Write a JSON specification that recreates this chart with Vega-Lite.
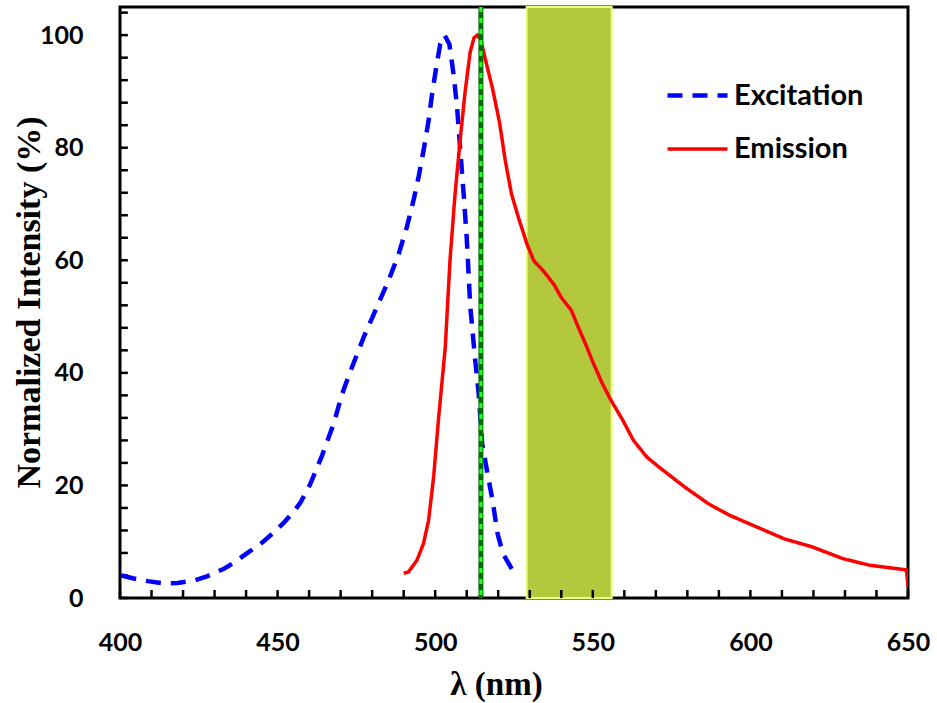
{
  "$schema": "https://vega.github.io/schema/vega-lite/v6.json",
  "width": 788,
  "height": 591,
  "autosize": "none",
  "padding": {"left": 120, "top": 7, "right": 29, "bottom": 105},
  "background": "white",
  "config": {
    "view": {"stroke": "black", "strokeWidth": 3},
    "axis": {
      "grid": false,
      "domain": false,
      "labelFont": "Lato",
      "labelFontWeight": "bold",
      "labelFontSize": 25,
      "labelColor": "black",
      "labelFlush": false,
      "labelOverlap": false,
      "titleFont": "Liberation Serif",
      "titleFontWeight": "bold",
      "titleFontSize": 33,
      "titleColor": "black"
    }
  },
  "resolve": {"axis": {"x": "independent", "y": "independent"}},
  "datasets": {
    "spectra": [
      {"wl": 400.5, "val": 4.0, "series": "Excitation"},
      {"wl": 404, "val": 3.5, "series": "Excitation"},
      {"wl": 408.8, "val": 3.0, "series": "Excitation"},
      {"wl": 414, "val": 2.6, "series": "Excitation"},
      {"wl": 418.3, "val": 2.65, "series": "Excitation"},
      {"wl": 423.5, "val": 3.1, "series": "Excitation"},
      {"wl": 427.8, "val": 3.9, "series": "Excitation"},
      {"wl": 433, "val": 5.2, "series": "Excitation"},
      {"wl": 436.2, "val": 6.3, "series": "Excitation"},
      {"wl": 440.9, "val": 8.2, "series": "Excitation"},
      {"wl": 444.6, "val": 9.6, "series": "Excitation"},
      {"wl": 448.3, "val": 11.4, "series": "Excitation"},
      {"wl": 452, "val": 13.4, "series": "Excitation"},
      {"wl": 455.2, "val": 15.4, "series": "Excitation"},
      {"wl": 457.3, "val": 17.0, "series": "Excitation"},
      {"wl": 460.4, "val": 20.3, "series": "Excitation"},
      {"wl": 464.1, "val": 25.3, "series": "Excitation"},
      {"wl": 467.8, "val": 31.0, "series": "Excitation"},
      {"wl": 470.5, "val": 36.3, "series": "Excitation"},
      {"wl": 473.6, "val": 41.0, "series": "Excitation"},
      {"wl": 477.3, "val": 46.3, "series": "Excitation"},
      {"wl": 481.5, "val": 51.7, "series": "Excitation"},
      {"wl": 485.2, "val": 56.4, "series": "Excitation"},
      {"wl": 488.4, "val": 61.1, "series": "Excitation"},
      {"wl": 491, "val": 65.9, "series": "Excitation"},
      {"wl": 493.1, "val": 70.6, "series": "Excitation"},
      {"wl": 494.7, "val": 74.7, "series": "Excitation"},
      {"wl": 496.3, "val": 79.5, "series": "Excitation"},
      {"wl": 497.9, "val": 84.8, "series": "Excitation"},
      {"wl": 499, "val": 89.5, "series": "Excitation"},
      {"wl": 500.5, "val": 94.9, "series": "Excitation"},
      {"wl": 501.6, "val": 98.4, "series": "Excitation"},
      {"wl": 503, "val": 100, "series": "Excitation"},
      {"wl": 504.5, "val": 98.4, "series": "Excitation"},
      {"wl": 505.8, "val": 93.1, "series": "Excitation"},
      {"wl": 506.9, "val": 87.5, "series": "Excitation"},
      {"wl": 507.9, "val": 80.0, "series": "Excitation"},
      {"wl": 509, "val": 72.0, "series": "Excitation"},
      {"wl": 510, "val": 64.0, "series": "Excitation"},
      {"wl": 511.1, "val": 52.0, "series": "Excitation"},
      {"wl": 512.7, "val": 42.2, "series": "Excitation"},
      {"wl": 513.8, "val": 36.3, "series": "Excitation"},
      {"wl": 514.9, "val": 27.4, "series": "Excitation"},
      {"wl": 516.6, "val": 22.1, "series": "Excitation"},
      {"wl": 518.2, "val": 17.3, "series": "Excitation"},
      {"wl": 519.8, "val": 11.4, "series": "Excitation"},
      {"wl": 521.5, "val": 7.9, "series": "Excitation"},
      {"wl": 525, "val": 4.5, "series": "Excitation"},
      {"wl": 490, "val": 4.4, "series": "Emission"},
      {"wl": 491.5, "val": 4.6, "series": "Emission"},
      {"wl": 494.2, "val": 6.7, "series": "Emission"},
      {"wl": 496.3, "val": 9.7, "series": "Emission"},
      {"wl": 497.9, "val": 13.8, "series": "Emission"},
      {"wl": 499.5, "val": 21.5, "series": "Emission"},
      {"wl": 501.1, "val": 32.1, "series": "Emission"},
      {"wl": 502.6, "val": 41.0, "series": "Emission"},
      {"wl": 503.2, "val": 44.6, "series": "Emission"},
      {"wl": 504.7, "val": 60.0, "series": "Emission"},
      {"wl": 506.3, "val": 71.8, "series": "Emission"},
      {"wl": 507.9, "val": 81.3, "series": "Emission"},
      {"wl": 509.5, "val": 90.0, "series": "Emission"},
      {"wl": 511.1, "val": 97.0, "series": "Emission"},
      {"wl": 512.3, "val": 99.5, "series": "Emission"},
      {"wl": 513.3, "val": 100, "series": "Emission"},
      {"wl": 514.4, "val": 99.3, "series": "Emission"},
      {"wl": 516, "val": 95.5, "series": "Emission"},
      {"wl": 518.2, "val": 90.5, "series": "Emission"},
      {"wl": 520.4, "val": 84.5, "series": "Emission"},
      {"wl": 522.3, "val": 77.5, "series": "Emission"},
      {"wl": 524.2, "val": 71.8, "series": "Emission"},
      {"wl": 526.4, "val": 67.6, "series": "Emission"},
      {"wl": 529.1, "val": 62.9, "series": "Emission"},
      {"wl": 531.3, "val": 59.9, "series": "Emission"},
      {"wl": 534.5, "val": 58.0, "series": "Emission"},
      {"wl": 537.8, "val": 55.6, "series": "Emission"},
      {"wl": 540, "val": 53.4, "series": "Emission"},
      {"wl": 543.2, "val": 51.1, "series": "Emission"},
      {"wl": 545.4, "val": 48.1, "series": "Emission"},
      {"wl": 548.1, "val": 44.6, "series": "Emission"},
      {"wl": 549.8, "val": 42.2, "series": "Emission"},
      {"wl": 553.1, "val": 38.0, "series": "Emission"},
      {"wl": 555.8, "val": 35.1, "series": "Emission"},
      {"wl": 559.6, "val": 31.5, "series": "Emission"},
      {"wl": 562.9, "val": 28.0, "series": "Emission"},
      {"wl": 567.2, "val": 25.0, "series": "Emission"},
      {"wl": 571.6, "val": 23.0, "series": "Emission"},
      {"wl": 579.2, "val": 19.7, "series": "Emission"},
      {"wl": 586.8, "val": 16.7, "series": "Emission"},
      {"wl": 593.4, "val": 14.7, "series": "Emission"},
      {"wl": 602.1, "val": 12.6, "series": "Emission"},
      {"wl": 610.8, "val": 10.5, "series": "Emission"},
      {"wl": 619.5, "val": 9.1, "series": "Emission"},
      {"wl": 629.3, "val": 7.0, "series": "Emission"},
      {"wl": 638, "val": 5.8, "series": "Emission"},
      {"wl": 649.5, "val": 5.0, "series": "Emission"},
      {"wl": 650, "val": 2.0, "series": "Emission"}
    ],
    "band": [{"start": 529, "end": 556}],
    "laser": [{"wl": 514.5}],
    "xticks": [{"t": 400},{"t": 410},{"t": 420},{"t": 430},{"t": 440},{"t": 450},{"t": 460},{"t": 470},{"t": 480},{"t": 490},{"t": 500},{"t": 510},{"t": 520},{"t": 530},{"t": 540},{"t": 550},{"t": 560},{"t": 570},{"t": 580},{"t": 590},{"t": 600},{"t": 610},{"t": 620},{"t": 630},{"t": 640},{"t": 650}],
    "yticks": [{"v": 0},{"v": 4},{"v": 8},{"v": 12},{"v": 16},{"v": 20},{"v": 24},{"v": 28},{"v": 32},{"v": 36},{"v": 40},{"v": 44},{"v": 48},{"v": 52},{"v": 56},{"v": 60},{"v": 64},{"v": 68},{"v": 72},{"v": 76},{"v": 80},{"v": 84},{"v": 88},{"v": 92},{"v": 96},{"v": 100},{"v": 104}]
  },
  "layer": [
    {
      "data": {"name": "band"},
      "mark": {"type": "rect", "fill": "#b4c83e", "stroke": "#ecff80", "strokeWidth": 2},
      "encoding": {
        "x": {"field": "start", "type": "quantitative", "scale": {"domain": [400, 650], "nice": false, "zero": false}, "axis": null},
        "x2": {"field": "end"}
      }
    },
    {
      "data": {"name": "xticks"},
      "mark": {"type": "rule", "color": "black", "strokeWidth": 2.5},
      "encoding": {
        "x": {"field": "t", "type": "quantitative", "axis": null},
        "y": {"datum": 0, "type": "quantitative", "axis": null},
        "y2": {"datum": 1.42}
      }
    },
    {
      "data": {"name": "yticks"},
      "mark": {"type": "rule", "color": "black", "strokeWidth": 2.5},
      "encoding": {
        "y": {"field": "v", "type": "quantitative", "axis": null},
        "x": {"datum": 400, "type": "quantitative", "axis": null},
        "x2": {"datum": 402.5}
      }
    },
    {
      "data": {"name": "spectra"},
      "mark": {"type": "line", "strokeCap": "butt", "clip": true},
      "encoding": {
        "x": {
          "field": "wl", "type": "quantitative",
          "scale": {"domain": [400, 650], "nice": false, "zero": false},
          "axis": {"orient": "bottom", "title": "λ (nm)", "values": [400, 450, 500, 550, 600, 650], "ticks": false, "tickSize": 0, "labelPadding": 32, "titleX": 376, "titleY": 86, "titleBaseline": "middle", "titleAlign": "center"}
        },
        "y": {
          "field": "val", "type": "quantitative",
          "scale": {"domain": [0, 105], "nice": false},
          "axis": {"orient": "left", "title": "Normalized Intensity (%)", "values": [0, 20, 40, 60, 80, 100], "ticks": false, "tickSize": 0, "labelPadding": 37, "titleX": -91, "titleY": 295, "titleAngle": -90, "titleAlign": "center", "titleBaseline": "middle", "titleFontSize": 34}
        },
        "color": {
          "field": "series", "type": "nominal",
          "scale": {"domain": ["Excitation", "Emission"], "range": ["#0000ff", "#ff0000"]},
          "legend": {
            "title": null,
            "orient": "none",
            "legendX": 545,
            "legendY": 56,
            "symbolType": "stroke",
            "symbolSize": 3600,
            "symbolStrokeWidth": 4,
            "labelFont": "Lato",
            "labelFontWeight": "bold",
            "labelFontSize": 29,
            "labelColor": "black",
            "labelOffset": 4,
            "rowPadding": 6
          }
        },
        "strokeDash": {
          "field": "series", "type": "nominal",
          "scale": {"domain": ["Excitation", "Emission"], "range": [[15, 10], [1, 0]]},
          "legend": {
            "title": null,
            "orient": "none",
            "legendX": 545,
            "legendY": 56,
            "symbolType": "stroke",
            "symbolSize": 3600,
            "symbolStrokeWidth": 4,
            "labelFont": "Lato",
            "labelFontWeight": "bold",
            "labelFontSize": 29,
            "labelColor": "black",
            "labelOffset": 4,
            "rowPadding": 6
          }
        },
        "strokeWidth": {
          "field": "series", "type": "nominal",
          "scale": {"domain": ["Excitation", "Emission"], "range": [4.5, 3.5]},
          "legend": null
        }
      }
    },
    {
      "data": {"name": "laser"},
      "mark": {"type": "rule", "color": "#006e00", "strokeWidth": 5},
      "encoding": {"x": {"field": "wl", "type": "quantitative", "axis": null}}
    },
    {
      "data": {"name": "laser"},
      "mark": {"type": "rule", "color": "#22ff22", "strokeWidth": 3, "strokeDash": [5, 6]},
      "encoding": {"x": {"field": "wl", "type": "quantitative", "axis": null}}
    }
  ]
}
